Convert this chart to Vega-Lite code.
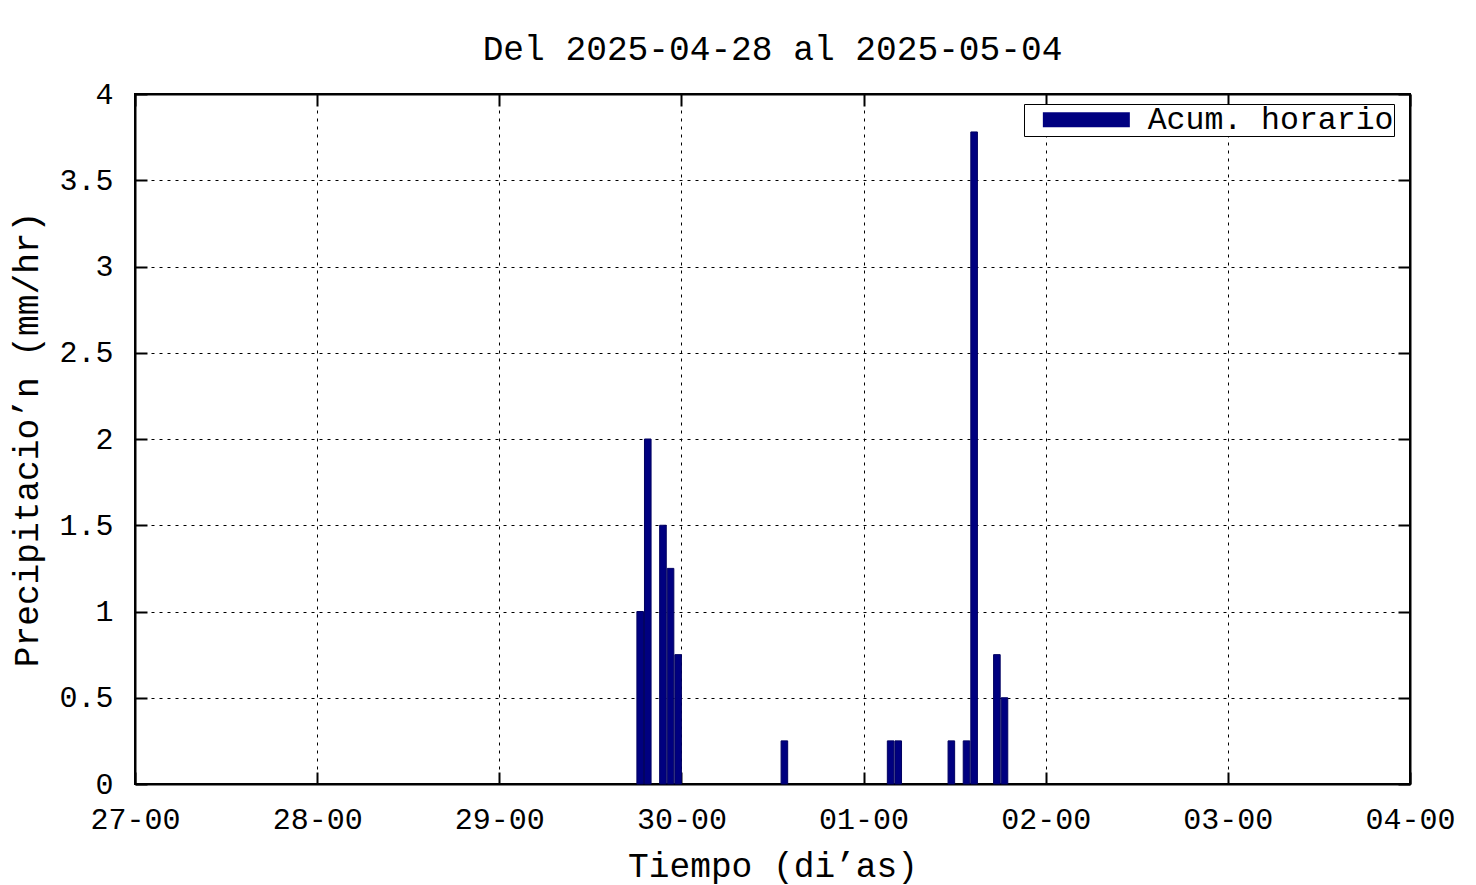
{
  "$schema": "https://vega.github.io/schema/vega-lite/v6.json",
  "width": 1275,
  "height": 690,
  "autosize": {"type": "none"},
  "padding": {"left": 135, "top": 94, "right": 66, "bottom": 101},
  "background": "white",
  "config": {
    "font": "Liberation Mono",
    "view": {"stroke": "black", "strokeWidth": 2},
    "axis": {
      "labelFont": "Liberation Mono",
      "titleFont": "Liberation Mono",
      "labelColor": "black",
      "titleColor": "black",
      "labelFontSize": 30,
      "titleFontSize": 34.5,
      "titleFontWeight": "normal",
      "domainColor": "black",
      "domainWidth": 2,
      "tickColor": "black",
      "tickWidth": 2,
      "gridColor": "black",
      "gridOpacity": 1,
      "gridWidth": 1,
      "gridDash": [3, 5]
    }
  },
  "title": {
    "text": "Del 2025-04-28 al 2025-05-04",
    "font": "Liberation Mono",
    "fontSize": 34.5,
    "fontWeight": "normal",
    "color": "black",
    "offset": 12
  },
  "data": {
    "values": [
      {"t": "2025-04-29T18:00:00", "v": 1.0},
      {"t": "2025-04-29T19:00:00", "v": 2.0},
      {"t": "2025-04-29T21:00:00", "v": 1.5},
      {"t": "2025-04-29T22:00:00", "v": 1.25},
      {"t": "2025-04-29T23:00:00", "v": 0.75},
      {"t": "2025-04-30T13:00:00", "v": 0.25},
      {"t": "2025-05-01T03:00:00", "v": 0.25},
      {"t": "2025-05-01T04:00:00", "v": 0.25},
      {"t": "2025-05-01T11:00:00", "v": 0.25},
      {"t": "2025-05-01T13:00:00", "v": 0.25},
      {"t": "2025-05-01T14:00:00", "v": 3.78},
      {"t": "2025-05-01T17:00:00", "v": 0.75},
      {"t": "2025-05-01T18:00:00", "v": 0.5}
    ]
  },
  "layer": [
    {
      "mark": {"type": "bar", "stroke": "#000060", "strokeWidth": 1},
      "encoding": {
        "x": {
          "field": "t",
          "type": "temporal",
          "timeUnit": "yearmonthdatehours",
          "scale": {"domain": [{"year": 2025, "month": 4, "date": 27}, {"year": 2025, "month": 5, "date": 4}]},
          "axis": {
            "orient": "bottom",
            "format": "%d-%H",
            "tickCount": {"interval": "day", "step": 1},
            "grid": true,
            "tickSize": -12,
            "labelPadding": 32,
            "title": "Tiempo (di’as)",
            "titlePadding": 15,
            "labelFlush": false
          }
        },
        "y": {
          "field": "v",
          "type": "quantitative",
          "scale": {"domain": [0, 4], "nice": false},
          "axis": {
            "orient": "left",
            "values": [0, 0.5, 1, 1.5, 2, 2.5, 3, 3.5, 4],
            "format": "~g",
            "grid": true,
            "tickSize": -12,
            "labelPadding": 34,
            "title": "Precipitacio’n (mm/hr)",
            "titlePadding": 14,
            "labelFlush": false
          }
        },
        "color": {
          "datum": "Acum. horario",
          "type": "nominal",
          "scale": {"range": ["#000080"]},
          "legend": {
            "title": null,
            "orient": "none",
            "legendX": 889,
            "legendY": 10,
            "strokeColor": "black",
            "fillColor": "white",
            "padding": 0,
            "symbolType": "M-4,-0.68H4V0.68H-4Z",
            "symbolSize": 473,
            "symbolStrokeWidth": 0,
            "symbolOffset": 46.6,
            "labelOffset": 45.6,
            "labelFont": "Liberation Mono",
            "labelFontSize": 31.5,
            "labelColor": "black",
            "labelLimit": 500
          }
        }
      }
    },
    {
      "mark": {"type": "bar", "opacity": 0},
      "encoding": {
        "x": {
          "field": "t",
          "type": "temporal",
          "timeUnit": "yearmonthdatehours",
          "axis": {
            "orient": "top",
            "labels": false,
            "title": null,
            "grid": false,
            "tickCount": {"interval": "day", "step": 1},
            "tickSize": -12
          }
        },
        "y": {
          "field": "v",
          "type": "quantitative",
          "axis": {
            "orient": "right",
            "labels": false,
            "title": null,
            "grid": false,
            "values": [0, 0.5, 1, 1.5, 2, 2.5, 3, 3.5, 4],
            "tickSize": -12
          }
        }
      }
    }
  ],
  "resolve": {"axis": {"x": "independent", "y": "independent"}}
}
